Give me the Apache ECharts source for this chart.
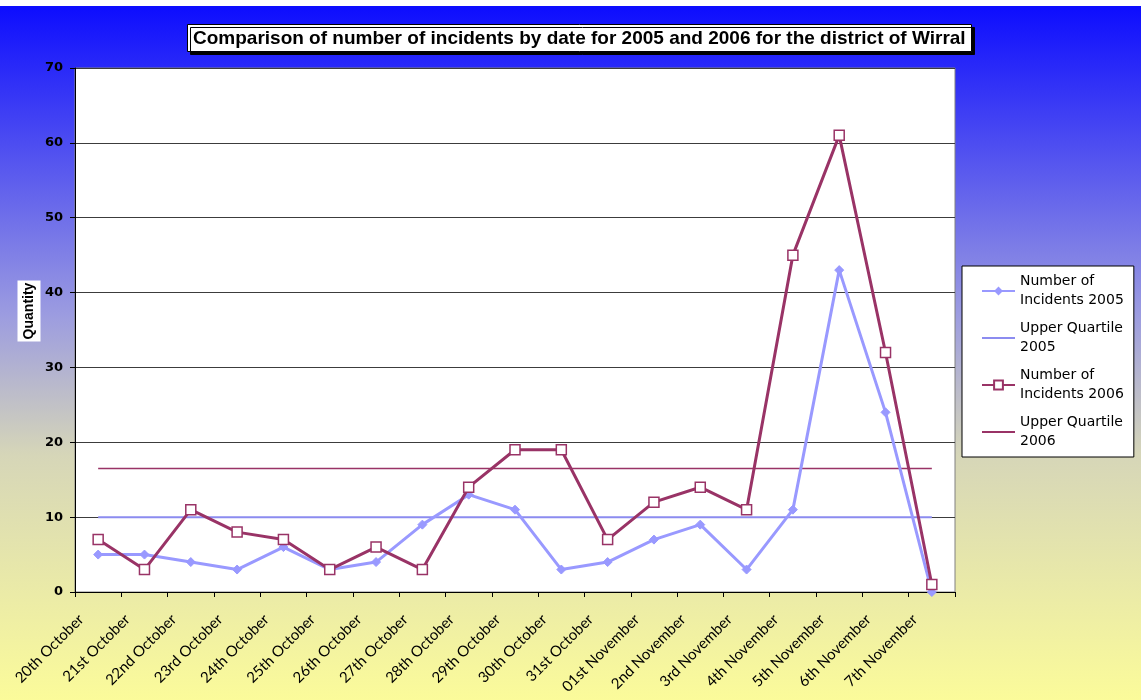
<!DOCTYPE html>
<html>
<head>
<meta charset="utf-8">
<title>Wirral incidents</title>
<script src="https://cdn.jsdelivr.net/npm/echarts@6/dist/echarts.min.js"></script>
<style>
  html, body { margin: 0; padding: 0; }
  #main { width: 1141px; height: 700px; }
</style>
</head>
<body>
<div id="main"></div>
<script type="text/javascript">
// dates on the x axis
var dates = ['20th October', '21st October', '22nd October', '23rd October', '24th October',
  '25th October', '26th October', '27th October', '28th October', '29th October', '30th October',
  '31st October', '01st November', '2nd November', '3rd November', '4th November',
  '5th November', '6th November', '7th November'];

// incidents per day
var incidents2005 = [5, 5, 4, 3, 6, 3, 4, 9, 13, 11, 3, 4, 7, 9, 3, 11, 43, 24, 0];
var incidents2006 = [7, 3, 11, 8, 7, 3, 6, 3, 14, 19, 19, 7, 12, 14, 11, 45, 61, 32, 1];

// upper quartile values (flat lines)
var upperQuartile2005 = 10;
var upperQuartile2006 = 16.5;

var myChart = echarts.init(document.getElementById('main'));

myChart.setOption({
  backgroundColor: new echarts.graphic.LinearGradient(0, 0, 0, 1, [
    { offset: 0, color: '#0a0aff' },
    { offset: 0.45, color: '#9c9ce0' },
    { offset: 0.65, color: '#d6d6b8' },
    { offset: 1, color: '#fbfb9a' }
  ]),
  animation: false,
  graphic: [{
    type: 'rect',
    left: 0, top: 0,
    shape: { width: 1141, height: 6 },
    style: { fill: '#ffffff' }
  }, {
    // y axis title, boxed in white like the original
    type: 'text',
    x: 29, y: 311,
    rotation: Math.PI / 2,
    style: {
      text: 'Quantity',
      fontFamily: 'Liberation Sans',
      fontSize: 14,
      fontWeight: 'bold',
      fill: '#000000',
      align: 'center',
      verticalAlign: 'middle',
      backgroundColor: '#ffffff',
      padding: [5, 2, 4, 2]
    }
  }],
  title: {
    text: 'Comparison of number of incidents by date for 2005 and 2006 for the district of Wirral',
    left: 187,
    top: 24,
    padding: [5, 6, 4, 6],
    backgroundColor: '#ffffff',
    borderColor: '#000000',
    borderWidth: 1,
    shadowColor: '#000000',
    shadowOffsetX: 3,
    shadowOffsetY: 3,
    shadowBlur: 0.1,
    textStyle: {
      fontFamily: 'Liberation Sans',
      fontSize: 19,
      fontWeight: 'bold',
      color: '#000000'
    }
  },
  legend: {
    orient: 'vertical',
    left: 962,
    top: 266,
    padding: [6, 10, 6, 19],
    itemGap: 9,
    itemWidth: 33,
    itemHeight: 11,
    backgroundColor: '#ffffff',
    borderColor: '#000000',
    borderWidth: 1,
    borderRadius: 0,
    textStyle: {
      fontFamily: 'DejaVu Sans',
      fontSize: 14,
      lineHeight: 19,
      color: '#000000'
    },
    formatter: function (name) {
      var parts = name.split(' ');
      if (name.indexOf('Number') === 0) {
        return 'Number of\nIncidents ' + parts[parts.length - 1];
      }
      return 'Upper Quartile\n' + parts[parts.length - 1];
    },
    data: [
      { name: 'Number of Incidents 2005' },
      { name: 'Upper Quartile 2005', itemStyle: { opacity: 0 } },
      { name: 'Number of Incidents 2006' },
      { name: 'Upper Quartile 2006', itemStyle: { opacity: 0 } }
    ]
  },
  grid: {
    left: 75,
    top: 68,
    right: 186,
    bottom: 108,
    show: true,
    backgroundColor: '#ffffff',
    borderColor: '#808080',
    borderWidth: 1
  },
  xAxis: {
    type: 'category',
    data: dates,
    boundaryGap: true,
    axisLine: { lineStyle: { color: '#000000', width: 1 } },
    axisTick: { show: true, length: 5, lineStyle: { color: '#000000' } },
    axisLabel: {
      rotate: 45,
      interval: 0,
      margin: 8,
      padding: [0, 24, 0, 0],
      fontFamily: 'Lato',
      fontSize: 15,
      color: '#000000'
    }
  },
  yAxis: {
    type: 'value',
    min: 0,
    max: 70,
    interval: 10,
    axisLine: { show: true, lineStyle: { color: '#000000', width: 1 } },
    axisTick: { show: true, length: 5, lineStyle: { color: '#000000' } },
    axisLabel: {
      margin: 12,
      fontFamily: 'DejaVu Sans',
      fontSize: 13,
      fontWeight: 'bold',
      color: '#000000'
    },
    splitLine: { show: true, lineStyle: { color: '#3c3c3c', width: 1 } }
  },
  series: [
    {
      name: 'Number of Incidents 2005',
      type: 'line',
      data: incidents2005,
      symbol: 'diamond',
      symbolSize: 9,
      z: 3,
      lineStyle: { color: '#9999ff', width: 3 },
      itemStyle: { color: '#9999ff', borderColor: '#9999ff' }
    },
    {
      name: 'Upper Quartile 2005',
      type: 'line',
      data: dates.map(function () { return upperQuartile2005; }),
      symbol: 'none',
      z: 2,
      lineStyle: { color: '#8c8cf0', width: 2 },
      itemStyle: { color: '#8c8cf0' }
    },
    {
      name: 'Number of Incidents 2006',
      type: 'line',
      data: incidents2006,
      symbol: 'rect',
      symbolSize: 10,
      z: 4,
      lineStyle: { color: '#993366', width: 3 },
      itemStyle: { color: '#ffffff', borderColor: '#993366', borderWidth: 1.5 }
    },
    {
      name: 'Upper Quartile 2006',
      type: 'line',
      data: dates.map(function () { return upperQuartile2006; }),
      symbol: 'none',
      z: 2,
      lineStyle: { color: '#993366', width: 1.5 },
      itemStyle: { color: '#993366' }
    }
  ]
});
</script>
</body>
</html>
